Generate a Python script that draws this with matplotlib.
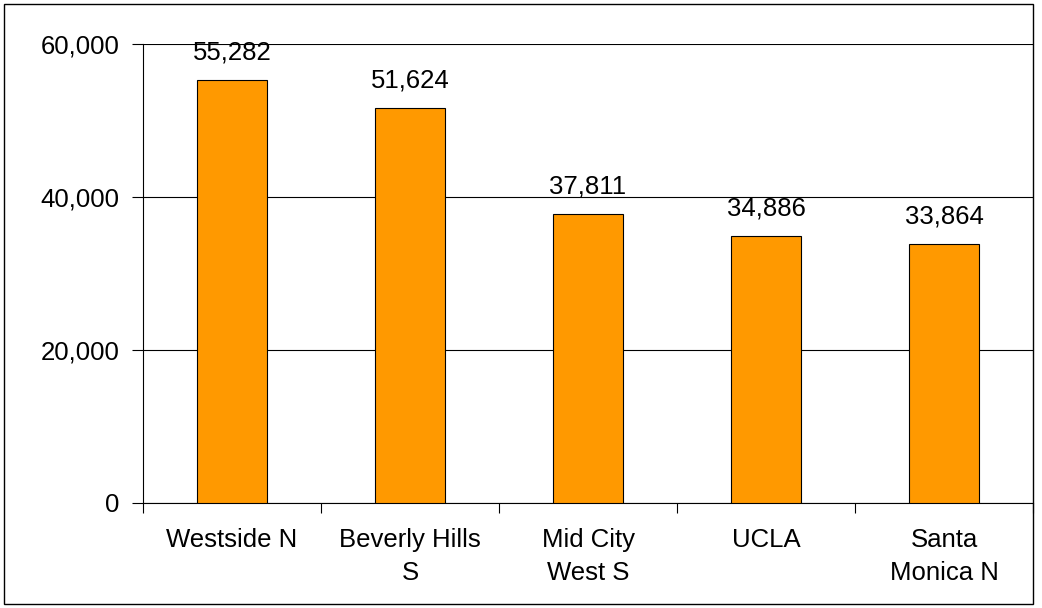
import matplotlib
matplotlib.use("Agg")
import matplotlib.pyplot as plt
from matplotlib.patches import Rectangle

areas = ["Westside N", "Beverly Hills\nS", "Mid City\nWest S", "UCLA", "Santa\nMonica N"]
values = [55282, 51624, 37811, 34886, 33864]
yticks = [0, 20000, 40000, 60000]

plt.rcParams['font.family'] = ['Liberation Sans', 'DejaVu Sans']

W, H = 1042, 608
fs = 18.5
fig = plt.figure(figsize=(W / 100, H / 100), dpi=100)
ax = fig.add_axes([143 / W, 1 - 503 / H, (1033 - 143) / W, (503 - 44) / H])

x = range(len(areas))
ax.bar(x, values, width=0.395, color='#FF9900', edgecolor='black', linewidth=0.8, zorder=3)

for i, v in enumerate(values):
    ax.annotate(f"{v:,}", (i, v), xytext=(0, 11), textcoords='offset points',
                ha='center', va='bottom', fontsize=fs)

ax.set_xlim(-0.5, len(areas) - 0.5)
ax.set_ylim(0, 60000)
ax.set_yticks(yticks)
ax.set_yticklabels([f"{t:,}" for t in yticks], fontsize=fs)
ax.yaxis.grid(True, color='black', linewidth=0.8, zorder=0)

# category ticks at the boundaries, labels centered
ax.set_xticks([i - 0.5 for i in range(len(areas) + 1)])
ax.set_xticklabels([])
ax.set_xticks(list(x), minor=True)
ax.set_xticklabels(areas, minor=True, fontsize=fs, linespacing=1.45)
ax.tick_params(axis='x', which='minor', length=0, pad=18)
ax.tick_params(axis='x', which='major', length=7, width=0.8, direction='out')
ax.tick_params(axis='y', length=8, width=0.8, direction='out', pad=9)

for s in ['top', 'right']:
    ax.spines[s].set_visible(False)
ax.spines['left'].set_linewidth(0.8)
ax.spines['bottom'].set_linewidth(0.8)

fig.patches.append(Rectangle((4 / W, 4 / H), (1033 - 4) / W, (604 - 4) / H,
                             transform=fig.transFigure, fill=False,
                             edgecolor='black', linewidth=1))

fig.savefig('out.png', dpi=100)
